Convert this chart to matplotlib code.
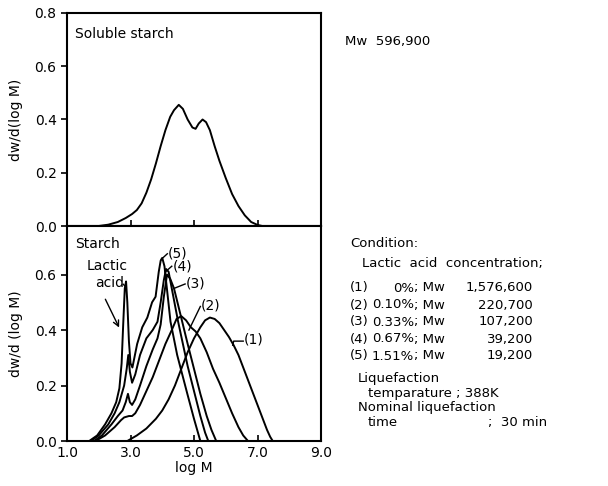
import matplotlib
matplotlib.use('Agg')
import matplotlib.pyplot as plt

# soluble starch (upper panel)
sol_logM = [2.0, 2.3, 2.6, 2.85, 3.05, 3.2, 3.35, 3.5, 3.65, 3.8, 3.95, 4.1, 4.25, 4.37,
            4.52, 4.65, 4.8, 4.95, 5.05, 5.15, 5.27, 5.38, 5.5, 5.65, 5.8, 6.0, 6.2,
            6.4, 6.6, 6.8, 7.0, 7.15]
sol_dw = [0.0, 0.005, 0.015, 0.03, 0.045, 0.06, 0.085, 0.125, 0.175, 0.235, 0.30, 0.36,
          0.41, 0.435, 0.455, 0.44, 0.40, 0.37, 0.365, 0.385, 0.40, 0.39, 0.36, 0.30,
          0.245, 0.18, 0.12, 0.075, 0.04, 0.015, 0.004, 0.0]

# starch liquefied with lactic acid (lower panel), curves (1)..(5)
c1_logM = [2.9, 3.2, 3.5, 3.8, 4.0, 4.2, 4.4, 4.6, 4.8, 5.0, 5.2, 5.35, 5.5, 5.65, 5.8,
           5.95, 6.1, 6.25, 6.4, 6.55, 6.7, 6.85, 7.0, 7.15, 7.3, 7.4, 7.48]
c1_dw = [0.0, 0.02, 0.045, 0.08, 0.11, 0.15, 0.20, 0.26, 0.32, 0.37, 0.41, 0.435, 0.445,
         0.44, 0.425, 0.40, 0.375, 0.345, 0.31, 0.265, 0.22, 0.175, 0.13, 0.085, 0.04,
         0.015, 0.0]

c2_logM = [1.9, 2.2, 2.5, 2.7, 2.8, 2.95, 3.05, 3.15, 3.3, 3.5, 3.7, 3.9, 4.1, 4.3, 4.45,
           4.6, 4.75, 4.9, 5.05, 5.2, 5.4, 5.6, 5.8, 6.0, 6.2, 6.4, 6.55, 6.7]
c2_dw = [0.0, 0.02, 0.05, 0.075, 0.085, 0.09, 0.09, 0.10, 0.13, 0.18, 0.23, 0.29, 0.35,
         0.40, 0.44, 0.45, 0.435, 0.41, 0.395, 0.37, 0.32, 0.26, 0.21, 0.155, 0.10, 0.05,
         0.02, 0.0]

c3_logM = [1.85, 2.1, 2.4, 2.6, 2.75, 2.85, 2.92, 2.98, 3.05, 3.15, 3.3, 3.5, 3.7, 3.85,
           3.95, 4.05, 4.15, 4.25, 4.37, 4.5, 4.65, 4.8, 5.0, 5.2, 5.4, 5.55, 5.7]
c3_dw = [0.0, 0.02, 0.06, 0.09, 0.11, 0.14, 0.17, 0.14, 0.13, 0.15, 0.20, 0.27, 0.33,
         0.37, 0.42, 0.52, 0.60, 0.585, 0.55, 0.49, 0.42, 0.35, 0.26, 0.17, 0.09, 0.04, 0.0]

c4_logM = [1.75, 2.0, 2.3, 2.5, 2.65, 2.8, 2.88, 2.93, 2.98, 3.05, 3.15, 3.3, 3.5, 3.7,
           3.85, 3.95, 4.05, 4.12, 4.2, 4.35, 4.5, 4.65, 4.8, 5.0, 5.2, 5.35, 5.45]
c4_dw = [0.0, 0.02, 0.06, 0.10, 0.14, 0.20, 0.26, 0.31, 0.25, 0.21, 0.24, 0.31, 0.37,
         0.40, 0.43, 0.50, 0.58, 0.62, 0.61, 0.52, 0.43, 0.35, 0.27, 0.18, 0.09, 0.03, 0.0]

c5_logM = [1.7, 1.95, 2.2, 2.4, 2.55, 2.65, 2.72, 2.77, 2.82, 2.86, 2.9, 2.95, 3.0, 3.06,
           3.21, 3.37, 3.53, 3.68, 3.79, 3.89, 3.95, 4.0, 4.07, 4.26, 4.47, 4.79, 5.0,
           5.1, 5.2]
c5_dw = [0.0, 0.02, 0.06, 0.10, 0.14, 0.19, 0.28, 0.42, 0.55, 0.575, 0.50, 0.36, 0.28,
         0.265, 0.35, 0.41, 0.445, 0.50, 0.52, 0.61, 0.65, 0.66, 0.63, 0.43, 0.31, 0.17,
         0.08, 0.04, 0.0]

curve_tags = ['(1)', '(2)', '(3)', '(4)', '(5)']
concentrations = ['0%', '0.10%', '0.33%', '0.67%', '1.51%']
mw_values = ['1,576,600', '220,700', '107,200', '39,200', '19,200']

W, H = 608, 486
fig = plt.figure(figsize=(W / 100, H / 100), dpi=100)
plt.rcParams['font.family'] = 'DejaVu Sans'


def box(x0, y0, x1, y1):
    return [x0 / W, 1 - y1 / H, (x1 - x0) / W, (y1 - y0) / H]


ax1 = fig.add_axes(box(67, 13, 321, 226))
ax2 = fig.add_axes(box(67, 226, 321, 441))

for ax in (ax1, ax2):
    ax.set_xlim(1.0, 9.0)
    ax.set_xticks([1.0, 3.0, 5.0, 7.0, 9.0])
    for s in ax.spines.values():
        s.set_linewidth(1.5)
    ax.tick_params(axis='x', direction='in', length=4, width=1.2, labelsize=10)
    ax.tick_params(axis='y', direction='out', length=4, width=1.2, labelsize=10)

ax1.set_ylim(0, 0.8)
ax1.set_yticks([0.0, 0.2, 0.4, 0.6, 0.8])
ax1.tick_params(axis='x', labelbottom=False)
ax1.plot(sol_logM, sol_dw, color='black', lw=1.4)
ax1.text(1.25, 0.72, 'Soluble starch', fontsize=10, va='center')
ax1.set_ylabel('dw/d(log M)', fontsize=10, labelpad=8)

ax2.set_ylim(0, 0.775)
ax2.set_yticks([0.0, 0.2, 0.4, 0.6])
ax2.set_xticklabels(['1.0', '3.0', '5.0', '7.0', '9.0'])
for xs, ys in [(c1_logM, c1_dw), (c2_logM, c2_dw), (c3_logM, c3_dw),
               (c4_logM, c4_dw), (c5_logM, c5_dw)]:
    ax2.plot(xs, ys, color='black', lw=1.4)
ax2.text(1.25, 0.71, 'Starch', fontsize=10, va='center')
ax2.set_ylabel('dw/d (log M)', fontsize=10, labelpad=8)
ax2.set_xlabel('log M', fontsize=10, labelpad=1)

# lactic acid annotations
ax2.text(2.25, 0.63, 'Lactic', fontsize=10, ha='center', va='center')
ax2.text(2.35, 0.57, 'acid', fontsize=10, ha='center', va='center')
ax2.plot([2.77, 2.86], [0.565, 0.555], color='black', lw=1.0)
ax2.annotate('', xy=(2.68, 0.40), xytext=(2.17, 0.52),
             arrowprops=dict(arrowstyle='->', color='black', lw=1.0))

# curve tags with leader lines
tag_pos = [(6.58, 0.365), (5.21, 0.488), (4.74, 0.566), (4.32, 0.63), (4.18, 0.675)]
leaders = [([6.22, 6.25, 6.55], [0.345, 0.36, 0.36]),
           ([4.84, 5.2], [0.40, 0.485]),
           ([4.37, 4.72], [0.55, 0.566]),
           ([4.1, 4.3], [0.61, 0.63]),
           ([3.97, 4.16], [0.655, 0.675])]
for tag, (tx, ty), (lx, ly) in zip(curve_tags, tag_pos, leaders):
    ax2.text(tx, ty, tag, fontsize=10, va='center')
    ax2.plot(lx, ly, color='black', lw=1.0)


def ftext(x, y, s, **kw):
    fig.text(x / W, 1 - y / H, s, fontsize=9.5, va='center', **kw)


ftext(345, 42, 'Mw  596,900')
ftext(350, 243, 'Condition:')
ftext(362, 263, 'Lactic  acid  concentration;')
row_y = [288, 305, 322, 339, 356]
for tag, conc, mw, y in zip(curve_tags, concentrations, mw_values, row_y):
    ftext(350, y, tag)
    ftext(414, y, conc, ha='right')
    ftext(414, y, '; Mw')
    ftext(533, y, mw, ha='right')
ftext(358, 378, 'Liquefaction')
ftext(368, 393, 'temparature ; 388K')
ftext(358, 407, 'Nominal liquefaction')
ftext(368, 422, 'time')
ftext(488, 422, ';  30 min')

fig.savefig('out.png', dpi=100)
